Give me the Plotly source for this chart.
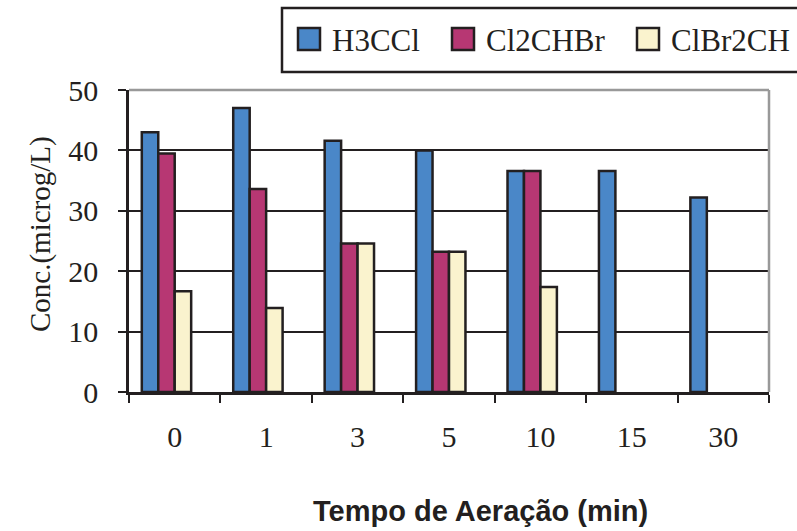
import plotly.graph_objects as go

categories = ["0", "1", "3", "5", "10", "15", "30"]
h3ccl = [43.0, 47.0, 41.6, 40.0, 36.6, 36.6, 32.2]
cl2chbr = [39.5, 33.6, 24.6, 23.2, 36.6, None, None]
clbr2ch = [16.7, 13.9, 24.6, 23.2, 17.4, None, None]
series_names = ["H3CCl", "Cl2CHBr", "ClBr2CH"]
colors = ["#4A87C8", "#B73773", "#FAF3CE"]
y_ticks = [0, 10, 20, 30, 40, 50]

serif = "Liberation Serif, Times New Roman, serif"
ink = "#231F20"

W, H = 797, 531
ML, MR, MT, MB = 129, 28, 90, 139
PW, PH = W - ML - MR, H - MT - MB


def px(xp):
    return (xp - ML) / PW


def py(yp):
    return (H - MB - yp) / PH


fig = go.Figure()
offsets = [-0.36, -0.18, 0.0]
for name, vals, col, off in zip(series_names, [h3ccl, cl2chbr, clbr2ch], colors, offsets):
    fig.add_trace(go.Bar(
        x=categories, y=vals, name=name,
        marker=dict(color=col, line=dict(color=ink, width=2.5)),
        width=0.18, offset=off, showlegend=False,
    ))

shapes = [
    dict(type="line", xref="paper", yref="paper", x0=0, x1=1, y0=1, y1=1,
         line=dict(color="#999999", width=2.5)),
    dict(type="line", xref="paper", yref="paper", x0=1, x1=1, y0=0, y1=1,
         line=dict(color="#999999", width=2.5)),
    dict(type="rect", xref="paper", yref="paper", x0=px(282), x1=px(830), y0=py(72), y1=py(8),
         line=dict(color=ink, width=2.5), fillcolor="rgba(0,0,0,0)"),
]
annotations = []
legend_sq_left = [298, 452, 637]
for name, col, sx in zip(series_names, colors, legend_sq_left):
    shapes.append(dict(type="rect", xref="paper", yref="paper",
                       x0=px(sx), x1=px(sx + 22), y0=py(50), y1=py(28),
                       line=dict(color=ink, width=2.5), fillcolor=col))
    annotations.append(dict(text=name, xref="paper", yref="paper", x=px(sx + 32), y=py(40),
                            xanchor="left", yanchor="middle", showarrow=False,
                            font=dict(family=serif, size=31, color=ink)))

annotations.append(dict(text="<b>Tempo de Aeração (min)</b>", xref="paper", yref="paper",
                        x=px(480), y=py(511), xanchor="center", yanchor="middle", showarrow=False,
                        font=dict(family="Liberation Sans, Arial, sans-serif", size=29, color=ink)))

annotations.append(dict(text="Conc.(microg/L)", xref="paper", yref="paper",
                        x=px(40), y=py(234), xanchor="center", yanchor="middle", showarrow=False,
                        textangle=-90, font=dict(family=serif, size=29, color=ink)))

fig.update_layout(
    width=W, height=H,
    margin=dict(l=ML, r=MR, t=MT, b=MB, autoexpand=False),
    paper_bgcolor="white", plot_bgcolor="white",
    font=dict(family=serif, size=30, color=ink),
    barmode="overlay",
    xaxis=dict(
        type="category", range=[-0.5, 6.5],
        showline=True, linecolor=ink, linewidth=2.5,
        ticks="outside", ticklen=8, tickwidth=2, tickcolor=ink,
        tickson="boundaries", showgrid=False, zeroline=False,
        ticklabelstandoff=16,
    ),
    yaxis=dict(
        range=[0, 50], tickvals=y_ticks,
        showline=True, linecolor=ink, linewidth=2.5,
        ticks="outside", ticklen=8, tickwidth=2, tickcolor=ink,
        showgrid=True, gridcolor=ink, gridwidth=2, zeroline=False,
        ticklabelstandoff=14,
    ),
    shapes=shapes,
    annotations=annotations,
)

fig.write_html("out.html")
